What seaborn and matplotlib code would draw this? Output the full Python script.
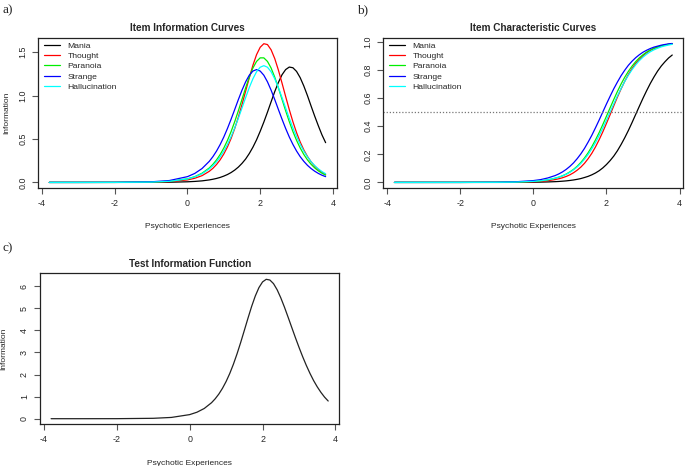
import numpy as np
import pandas as pd
import matplotlib
matplotlib.use("Agg")
import matplotlib.pyplot as plt
import seaborn as sns

# ---------------- data ----------------
theta = [-3.8, -3.0, -2.0, -1.0, -0.5, 0.0, 0.2, 0.4, 0.6, 0.7,
         0.8, 0.9, 1.0, 1.1, 1.2, 1.3, 1.4, 1.5, 1.6, 1.7,
         1.8, 1.9, 2.0, 2.1, 2.2, 2.3, 2.4, 2.5, 2.6, 2.7,
         2.8, 2.9, 3.0, 3.1, 3.2, 3.3, 3.4, 3.5, 3.6, 3.7, 3.8]

items = ["Mania", "Thought", "Paranoia", "Strange", "Hallucination"]

info_mania = [0, 0, 0.0001, 0.0007, 0.0023, 0.0073, 0.0116, 0.018, 0.029, 0.0367,
              0.046, 0.0579, 0.073, 0.0912, 0.114, 0.1424, 0.177, 0.2197, 0.27, 0.3328,
              0.406, 0.491, 0.589, 0.695, 0.809, 0.9285, 1.046, 1.151, 1.24, 1.300,
              1.329, 1.321, 1.279, 1.207, 1.111, 1.0, 0.88, 0.763, 0.652, 0.547, 0.458]
info_thought = [0, 0, 0.0002, 0.0023, 0.0083, 0.029, 0.048, 0.078, 0.128, 0.1629,
                0.207, 0.2611, 0.328, 0.4097, 0.507, 0.622, 0.753, 0.898, 1.052, 1.206,
                1.350, 1.472, 1.557, 1.598, 1.588, 1.528, 1.427, 1.295, 1.145, 0.990,
                0.839, 0.699, 0.574, 0.466, 0.375, 0.300, 0.237, 0.188, 0.148, 0.116, 0.091]
info_paranoia = [0, 0, 0.0003, 0.0038, 0.0126, 0.0415, 0.066, 0.106, 0.167, 0.2089,
                 0.260, 0.3224, 0.397, 0.4849, 0.586, 0.7014, 0.826, 0.958, 1.090, 1.213,
                 1.318, 1.394, 1.435, 1.435, 1.394, 1.318, 1.213, 1.090, 0.958, 0.826,
                 0.701, 0.586, 0.485, 0.397, 0.322, 0.260, 0.209, 0.167, 0.133, 0.106, 0.084]
info_strange = [0, 0.0001, 0.0007, 0.0070, 0.0217, 0.0667, 0.1035, 0.160, 0.243, 0.2973,
                0.362, 0.4377, 0.524, 0.622, 0.729, 0.841, 0.955, 1.063, 1.159, 1.235,
                1.283, 1.30, 1.283, 1.235, 1.159, 1.063, 0.955, 0.841, 0.729, 0.622,
                0.524, 0.438, 0.362, 0.297, 0.243, 0.197, 0.160, 0.129, 0.1035, 0.083, 0.0667]
info_halluc = [0, 0, 0.0004, 0.0040, 0.0129, 0.0406, 0.064, 0.100, 0.156, 0.1937,
               0.239, 0.2948, 0.361, 0.4383, 0.528, 0.629, 0.740, 0.858, 0.978, 1.093,
               1.194, 1.275, 1.327, 1.345, 1.327, 1.275, 1.194, 1.093, 0.978, 0.858,
               0.740, 0.628, 0.528, 0.438, 0.361, 0.295, 0.239, 0.194, 0.156, 0.125, 0.100]

icc_mania = [0, 0, 0, 0.0001, 0.0004, 0.0014, 0.0022, 0.0035, 0.0055, 0.0069,
             0.0088, 0.0110, 0.014, 0.0175, 0.022, 0.0275, 0.035, 0.0432, 0.054, 0.067,
             0.083, 0.103, 0.127, 0.155, 0.187, 0.225, 0.269, 0.317, 0.369, 0.425,
             0.483, 0.541, 0.598, 0.652, 0.703, 0.749, 0.791, 0.827, 0.857, 0.884, 0.905]
icc_thought = [0, 0, 0, 0.0004, 0.0013, 0.0045, 0.0075, 0.0124, 0.0204, 0.0261,
               0.0334, 0.0426, 0.054, 0.0688, 0.087, 0.109, 0.136, 0.169, 0.207, 0.252,
               0.303, 0.359, 0.419, 0.481, 0.544, 0.606, 0.664, 0.718, 0.767, 0.809,
               0.845, 0.875, 0.900, 0.921, 0.938, 0.951, 0.961, 0.970, 0.976, 0.982, 0.986]
icc_paranoia = [0, 0, 0.0001, 0.0007, 0.0022, 0.0073, 0.0117, 0.0187, 0.030, 0.0377,
                0.047, 0.0595, 0.075, 0.0928, 0.115, 0.142, 0.174, 0.211, 0.254, 0.302,
                0.354, 0.411, 0.470, 0.530, 0.589, 0.646, 0.699, 0.747, 0.789, 0.826,
                0.858, 0.885, 0.907, 0.926, 0.941, 0.953, 0.962, 0.970, 0.976, 0.981, 0.985]
icc_strange = [0, 0, 0.0001, 0.0013, 0.0042, 0.013, 0.020, 0.032, 0.049, 0.0609,
               0.075, 0.0928, 0.114, 0.139, 0.169, 0.203, 0.242, 0.287, 0.335, 0.388,
               0.443, 0.500, 0.557, 0.612, 0.665, 0.713, 0.758, 0.797, 0.832, 0.861,
               0.886, 0.907, 0.925, 0.939, 0.951, 0.961, 0.968, 0.975, 0.980, 0.984, 0.987]
icc_halluc = [0, 0, 0.0001, 0.0008, 0.0024, 0.0076, 0.012, 0.019, 0.030, 0.0374,
              0.047, 0.0582, 0.072, 0.0895, 0.110, 0.135, 0.165, 0.199, 0.239, 0.283,
              0.333, 0.386, 0.442, 0.500, 0.558, 0.614, 0.667, 0.717, 0.761, 0.801,
              0.835, 0.865, 0.890, 0.911, 0.928, 0.942, 0.953, 0.963, 0.970, 0.976, 0.981]

test_info = [0, 0.0001, 0.0017, 0.0178, 0.0578, 0.185, 0.293, 0.462, 0.723, 0.900,
             1.114, 1.374, 1.683, 2.046, 2.464, 2.936, 3.451, 3.997, 4.549, 5.080,
             5.551, 5.932, 6.191, 6.308, 6.277, 6.113, 5.835, 5.470, 5.05, 4.596,
             4.133, 3.672, 3.228, 2.805, 2.412, 2.052, 1.725, 1.441, 1.193, 0.977, 0.80]

item_colors = ["black", "#FF0000", "#00EE00", "#0000FF", "#00FFFF"]

# ---------------- tables ----------------
info_vals = [info_mania, info_thought, info_paranoia, info_strange, info_halluc]
icc_vals = [icc_mania, icc_thought, icc_paranoia, icc_strange, icc_halluc]
df_info = pd.DataFrame({
    "theta": np.tile(theta, len(items)),
    "value": np.concatenate(info_vals),
    "item": np.repeat(items, len(theta)),
})
df_icc = pd.DataFrame({
    "theta": np.tile(theta, len(items)),
    "value": np.concatenate(icc_vals),
    "item": np.repeat(items, len(theta)),
})
df_test = pd.DataFrame({"theta": theta, "value": test_info})

# ---------------- style ----------------
sns.set_style("white")
plt.rcParams["font.family"] = ["Liberation Sans", "DejaVu Sans"]
palette = dict(zip(items, item_colors))

fig = plt.figure(figsize=(6.85, 4.66), dpi=100)
ax_a = fig.add_axes([0.0559, 0.5966, 0.4356, 0.3219])
ax_b = fig.add_axes([0.5596, 0.5966, 0.4380, 0.3219])
ax_c = fig.add_axes([0.0584, 0.0895, 0.4369, 0.3240])

TICK_FS = 6.4
LAB_FS = 6.0


def style_axes(ax, yticks, yticklabels, ylim, title):
    ax.set_xlim(-4.104, 4.104)
    ax.set_ylim(*ylim)
    ax.set_xticks([-4, -2, 0, 2, 4])
    ax.set_xticklabels(["-4", "-2", "0", "2", "4"], fontsize=TICK_FS)
    ax.set_yticks(yticks)
    ax.set_yticklabels(yticklabels, fontsize=TICK_FS, rotation=90, va="center")
    ax.tick_params(axis="both", direction="out", length=4, width=0.8, color="#555555",
                   pad=4, bottom=True, left=True)
    for s in ax.spines.values():
        s.set_visible(True)
        s.set_linewidth(0.9)
        s.set_color("#222222")
    ax.set_xlabel("Psychotic Experiences", fontsize=LAB_FS, labelpad=11)
    ax.set_title(title, fontsize=7.2, fontweight="bold", pad=4.8)
    ax.grid(False)


# panel a
sns.lineplot(data=df_info, x="theta", y="value", hue="item", hue_order=items,
             palette=palette, linewidth=0.9, ax=ax_a, sort=False)
style_axes(ax_a, [0, 0.5, 1.0, 1.5], ["0.0", "0.5", "1.0", "1.5"], (-0.064, 1.664),
           "Item Information Curves")
ax_a.set_ylabel("Information", fontsize=LAB_FS, labelpad=6)

# panel b
sns.lineplot(data=df_icc, x="theta", y="value", hue="item", hue_order=items,
             palette=palette, linewidth=0.9, ax=ax_b, sort=False)
ax_b.axhline(0.5, color="#777777", linestyle=(0, (1, 1.5)), linewidth=0.9)
style_axes(ax_b, [0, 0.2, 0.4, 0.6, 0.8, 1.0],
           ["0.0", "0.2", "0.4", "0.6", "0.8", "1.0"], (-0.0395, 1.026),
           "Item Characteristic Curves")
ax_b.set_ylabel("")

# panel c
sns.lineplot(data=df_test, x="theta", y="value", color="#222222", linewidth=0.9, ax=ax_c)
style_axes(ax_c, [0, 1, 2, 3, 4, 5, 6], ["0", "1", "2", "3", "4", "5", "6"], (-0.253, 6.58),
           "Test Information Function")
ax_c.set_ylabel("Information", fontsize=LAB_FS, labelpad=9)

for ax in (ax_a, ax_b):
    leg = ax.legend(loc="upper left", bbox_to_anchor=(0.012, 0.985), frameon=False,
                    fontsize=6.1, handlelength=1.9, handletextpad=0.9, labelspacing=0.27,
                    borderpad=0.2, borderaxespad=0)
    for line in leg.get_lines():
        line.set_linewidth(0.9)

# panel letters
serif = ["Liberation Serif", "DejaVu Serif"]
fig.text(0.004, 0.978, "a)", fontsize=9.5, family=serif, va="center")
fig.text(0.521, 0.978, "b)", fontsize=9.5, family=serif, va="center")
fig.text(0.004, 0.468, "c)", fontsize=9.5, family=serif, va="center")

fig.savefig("out.png", dpi=100)
